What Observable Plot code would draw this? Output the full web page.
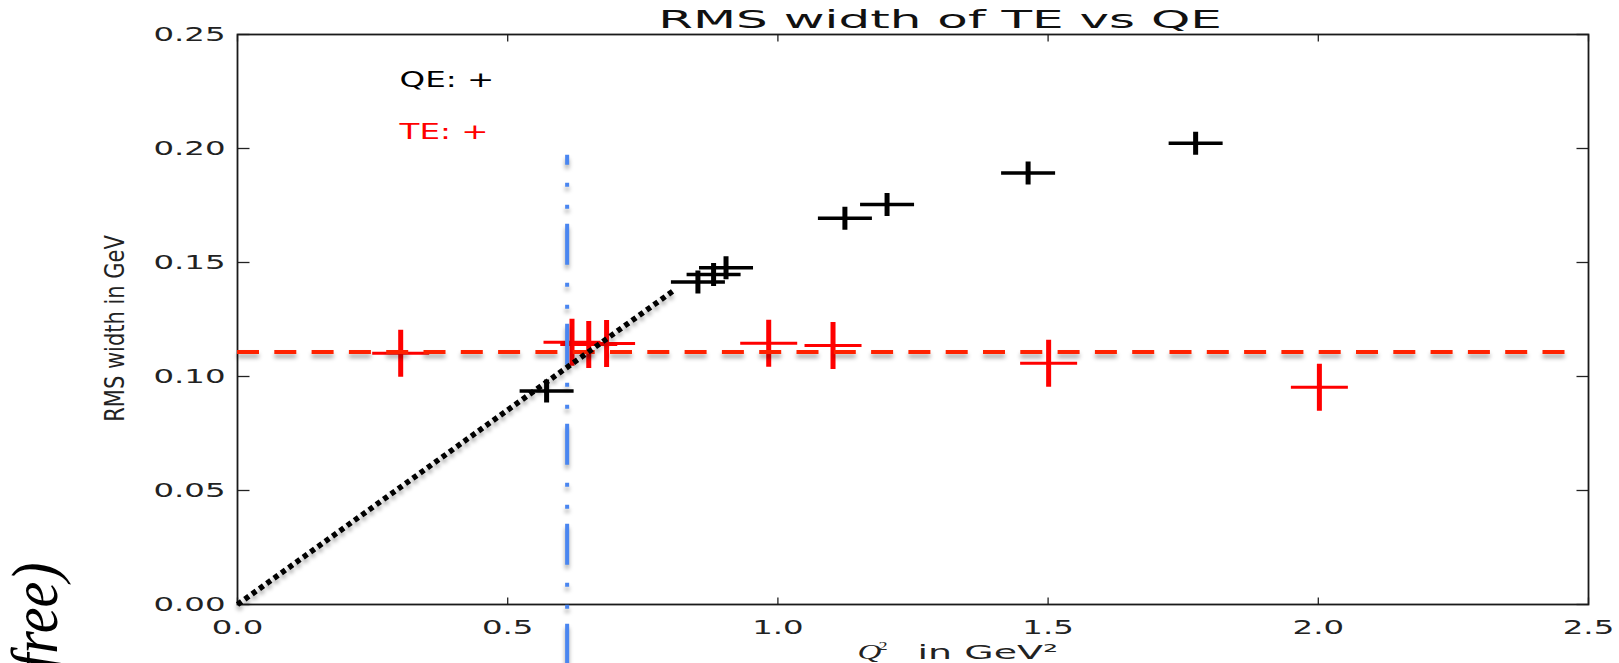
<!DOCTYPE html>
<html>
<head>
<meta charset="utf-8">
<script src="https://cdn.jsdelivr.net/npm/d3@7"></script>
<script src="https://cdn.jsdelivr.net/npm/@observablehq/plot@0.6"></script>
<style>
  html, body { margin: 0; padding: 0; background: #fff; }
  #chart svg { display: block; }
</style>
</head>
<body>
<div id="chart"></div>
<script>
// ---------- data ----------
const qeQ2  = [0.572, 0.852, 0.881, 0.904, 1.124, 1.202, 1.463, 1.773];
const qeRms = [0.0936, 0.1414, 0.1447, 0.1477, 0.1694, 0.1754, 0.1893, 0.2023];

const teQ2  = [0.302, 0.619, 0.650, 0.683, 0.983, 1.102, 1.501, 2.002];
const teRms = [0.1102, 0.1150, 0.1140, 0.1145, 0.1146, 0.1136, 0.1058, 0.0953];

const xTicks = [0, 0.5, 1.0, 1.5, 2.0, 2.5];
const yTicks = [0, 0.05, 0.10, 0.15, 0.20, 0.25];

const teMean = 0.1107;            // red dashed reference line
const teMeanRange = [0, 2.46];
const cutQ2 = 0.61;               // blue dash-dot vertical line
const cutRange = [0.197, -0.03];
const trendQ2 = [0, 0.806];       // black dotted line (start, end)
const trendRms = [0, 0.1375];

const legendLabels = ["QE: +", "TE: +"];
const legendQ2 = 0.3;
const legendRms = [0.227, 0.204];

const titleText = "RMS width of TE vs QE";
const yLabelText = "RMS width in GeV";
const xLabelVar = "Q";
const xLabelExp = "2";
const xLabelUnit = "in GeV²";
const sideText = "(free)";

// ---------- custom symbols ----------
function cross(w, h, tH, tV) {
  return { draw(ctx) { ctx.rect(-w / 2, -tH / 2, w, tH); ctx.rect(-tV / 2, -h / 2, tV, h); } };
}
function tickSym(dx, dy) {
  return { draw(ctx) { ctx.moveTo(0, 0); ctx.lineTo(dx, dy); } };
}
const qeMarker = cross(54, 23, 3.5, 5);
const teMarker = cross(57, 47, 3, 5);

const RED_LINE = "#ff2200", BLUE_LINE = "#4a86f0", DOT_LINE = "#010101";

const chart = Plot.plot({
  width: 1619,
  height: 663,
  marginLeft: 237,
  marginRight: 31,
  marginTop: 34,
  marginBottom: 59,
  style: { fontFamily: "DejaVu Sans", fontSize: "20px", color: "#222", background: "white" },
  x: { domain: [0, 2.5] },
  y: { domain: [0, 0.25] },
  marks: [
    // tick labels
    Plot.axisX({ ticks: xTicks, tickFormat: d3.format(".1f"), tickSize: 0, tickPadding: 15, label: null, fill: "#222" }),
    Plot.axisY({ ticks: yTicks, tickFormat: d3.format(".2f"), tickSize: 0, tickPadding: 12, label: null, fill: "#222" }),
    // inward ticks on all four sides
    Plot.dot(xTicks, { x: d => d, y: () => 0, symbol: tickSym(0, -7), stroke: "#222", fill: "none", strokeWidth: 1.3 }),
    Plot.dot(xTicks, { x: d => d, y: () => 0.25, symbol: tickSym(0, 7), stroke: "#222", fill: "none", strokeWidth: 1.3 }),
    Plot.dot(yTicks, { x: () => 0, y: d => d, symbol: tickSym(12, 0), stroke: "#222", fill: "none", strokeWidth: 1.3 }),
    Plot.dot(yTicks, { x: () => 2.5, y: d => d, symbol: tickSym(-12, 0), stroke: "#222", fill: "none", strokeWidth: 1.3 }),
    Plot.frame({ stroke: "#1a1a1a", strokeWidth: 1.8 }),

    // data
    Plot.dot(qeQ2, { x: d => d, y: (d, i) => qeRms[i], symbol: qeMarker, fill: "black", stroke: "none" }),
    Plot.dot(teQ2, { x: d => d, y: (d, i) => teRms[i], symbol: teMarker, fill: "#ff0000", stroke: "none" }),

    // annotations
    Plot.ruleY([teMean], { x1: teMeanRange[0], x2: teMeanRange[1], stroke: RED_LINE, strokeWidth: 4, strokeDasharray: "22,15.3" }),
    Plot.ruleX([cutQ2], { y1: cutRange[0], y2: cutRange[1], stroke: BLUE_LINE, strokeWidth: 4, strokeDasharray: "41,18,4,18,4,15", strokeDashoffset: 31 }),
    Plot.link([0], { x1: () => trendQ2[0], y1: () => trendRms[0], x2: () => trendQ2[1], y2: () => trendRms[1], stroke: DOT_LINE, strokeWidth: 5.5, strokeDasharray: "5,4", strokeLinecap: "butt" }),

    // legend
    Plot.text([legendLabels[0]], { x: () => legendQ2, y: () => legendRms[0], text: d => d, textAnchor: "start", lineAnchor: "bottom", fontSize: 21, fill: "black" }),
    Plot.text([legendLabels[1]], { x: () => legendQ2, y: () => legendRms[1], text: d => d, textAnchor: "start", lineAnchor: "bottom", fontSize: 21, fill: "#ff0000" }),

    // title
    Plot.text([titleText], { frameAnchor: "top", dx: 27, dy: -7, lineAnchor: "bottom", text: d => d, fontSize: 25, fill: "#111" }),
    // x label
    Plot.text([xLabelVar], { frameAnchor: "bottom-left", dx: 620, dy: 54, lineAnchor: "bottom", textAnchor: "start", text: d => d, fontFamily: "Liberation Serif", fontStyle: "italic", fontSize: 22, fill: "#222" }),
    Plot.text([xLabelExp], { frameAnchor: "bottom-left", dx: 641, dy: 45, lineAnchor: "bottom", textAnchor: "start", text: d => d, fontFamily: "Liberation Serif", fontSize: 13, fill: "#222" }),
    Plot.text([xLabelUnit], { frameAnchor: "bottom-left", dx: 680, dy: 54, lineAnchor: "bottom", textAnchor: "start", text: d => d, fontSize: 20, fill: "#222" }),
    // y label
    Plot.text([yLabelText], { frameAnchor: "left", dx: -122, dy: 9, rotate: -90, textAnchor: "middle", text: d => d, fontSize: 21, fill: "#222" }),
    // side text
    Plot.text([sideText], { frameAnchor: "bottom-left", dx: -181, dy: -42, rotate: -90, textAnchor: "end", lineAnchor: "bottom", text: d => d, fontFamily: "Liberation Serif", fontStyle: "italic", fontSize: 58, fill: "black" })
  ]
});

document.getElementById("chart").appendChild(chart);

// horizontal stretch of the original raster, applied per text
const stretchMap = new Map([
  [titleText, [2.0, 1]],
  [legendLabels[0], [1.55, 1]],
  [legendLabels[1], [1.55, 1]],
  [xLabelUnit, [1.9, 1]],
  [xLabelVar, [1.5, 1]],
  [xLabelExp, [1.4, 1]],
  [yLabelText, [1, 1.25]],
  [sideText, [1, 1.12]]
]);
d3.select(chart).selectAll("text").each(function () {
  const s = this.textContent.trim();
  let sc = stretchMap.get(s);
  if (!sc && /^\d\.\d+$/.test(s)) sc = [1.62, 1];
  if (!sc) return;
  const t = this.getAttribute("transform") || "";
  this.setAttribute("transform", t + ` scale(${sc[0]},${sc[1]})`);
});

d3.select(chart).selectAll(`g[stroke="${RED_LINE}"], g[stroke="${BLUE_LINE}"], g[stroke="${DOT_LINE}"]`)
  .style("filter", "drop-shadow(0px 4px 2px rgba(0,0,0,0.35))");
</script>
</body>
</html>
